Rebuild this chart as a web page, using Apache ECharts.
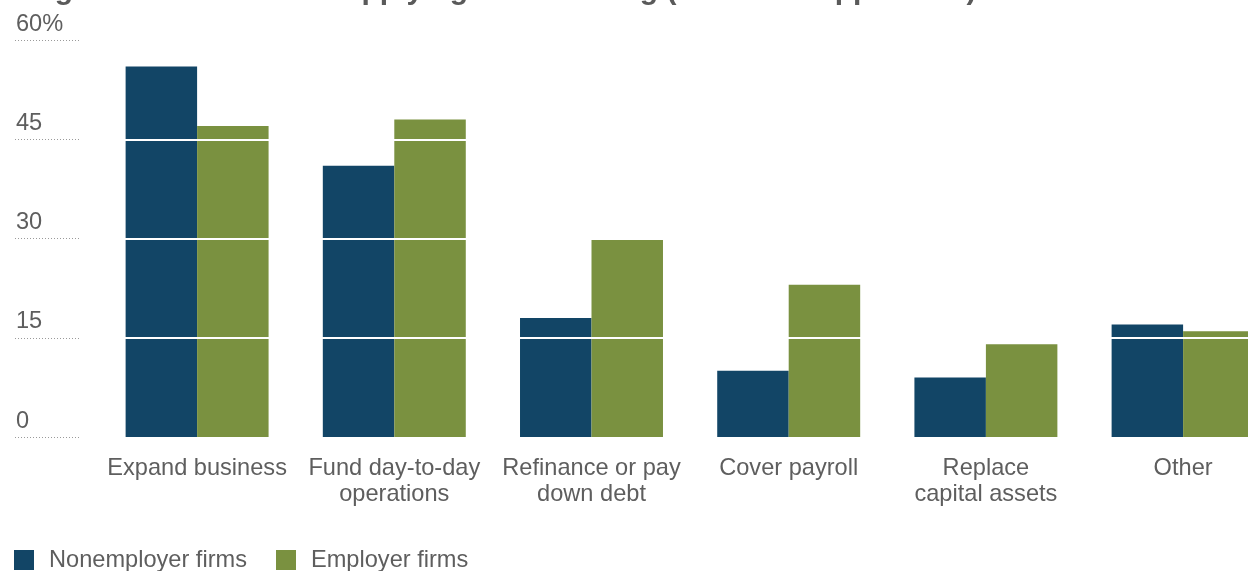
<!DOCTYPE html>
<html>
<head>
<meta charset="utf-8">
<title>Reasons for applying for financing</title>
<script src="https://cdn.jsdelivr.net/npm/echarts@6/dist/echarts.min.js"></script>
<style>
  html, body { margin: 0; padding: 0; background: #ffffff; overflow: hidden; }
  /* the plot runs past the right edge of the page, so the last group is cut off */
  #chart { width: 1282px; height: 571px; }
</style>
</head>
<body>
<div id="chart"></div>
<script>
// Share of loan applicants by reason for seeking financing (%)
const categories = [
  'Expand business',
  'Fund day-to-day\noperations',
  'Refinance or pay\ndown debt',
  'Cover payroll',
  'Replace\ncapital assets',
  'Other'
];
const nonemployerFirms = [56, 41, 18, 10, 9, 17];
const employerFirms = [47, 48, 30, 23, 14, 16];
const seriesNames = ['Nonemployer firms', 'Employer firms'];
const yTicks = [0, 15, 30, 45, 60];
const gridValues = [15, 30, 45];
const titleText = 'Figure 3: Reasons for applying for financing (% of loan applicants)';

const textColor = '#5e5e5e';
const fontFamily = 'Arial, "Liberation Sans", Helvetica, sans-serif';
const labelSize = 23.6;

const chart = echarts.init(document.getElementById('chart'), null, { renderer: 'canvas' });

chart.setOption({
  backgroundColor: '#ffffff',
  animation: false,
  textStyle: { fontFamily: fontFamily },
  graphic: [{
    type: 'text',
    left: 28,
    top: -24.5,
    silent: true,
    style: {
      text: titleText,
      fill: '#5a5a5a',
      font: 'bold 30px ' + fontFamily
    }
  }],
  legend: {
    left: 14,
    top: 548,
    padding: 0,
    itemWidth: 20,
    itemHeight: 20,
    itemGap: 29,
    icon: 'rect',
    selectedMode: false,
    data: seriesNames,
    textStyle: {
      color: textColor,
      fontSize: labelSize,
      fontFamily: fontFamily,
      padding: [0, 0, 0, 10]
    }
  },
  grid: {
    left: 98.5,
    top: 40,
    right: 0.3,
    height: 397,
    containLabel: false
  },
  xAxis: {
    type: 'category',
    data: categories,
    boundaryGap: true,
    axisLine: { show: false },
    axisTick: { show: false },
    axisLabel: {
      interval: 0,
      color: textColor,
      fontSize: labelSize,
      lineHeight: 26,
      margin: 18,
      fontFamily: fontFamily
    }
  },
  yAxis: {
    type: 'value',
    min: yTicks[0],
    max: yTicks[yTicks.length - 1],
    interval: 15,
    offset: 19.5,
    axisLine: { show: false },
    splitLine: { show: false },
    axisTick: {
      show: true,
      length: 64,
      lineStyle: { color: '#9a9a9a', type: [1, 2], width: 1 }
    },
    axisLabel: {
      color: textColor,
      fontSize: labelSize,
      fontFamily: fontFamily,
      align: 'left',
      verticalAlign: 'bottom',
      margin: 63,
      padding: [0, 0, 4, 0],
      formatter: function (v) {
        return v === yTicks[yTicks.length - 1] ? v + '%' : String(v);
      }
    }
  },
  series: [
    {
      name: seriesNames[0],
      type: 'bar',
      data: nonemployerFirms,
      barGap: '0%',
      barCategoryGap: '27.5%',
      itemStyle: { color: '#124566' }
    },
    {
      name: seriesNames[1],
      type: 'bar',
      data: employerFirms,
      barGap: '0%',
      barCategoryGap: '27.5%',
      itemStyle: { color: '#7a9140' },
      // white rules drawn across the bars at each gridline value
      markLine: {
        silent: true,
        symbol: ['none', 'none'],
        label: { show: false },
        lineStyle: { color: '#ffffff', width: 2, type: 'solid' },
        data: gridValues.map(function (v) { return { yAxis: v }; })
      }
    }
  ]
});
</script>
</body>
</html>
